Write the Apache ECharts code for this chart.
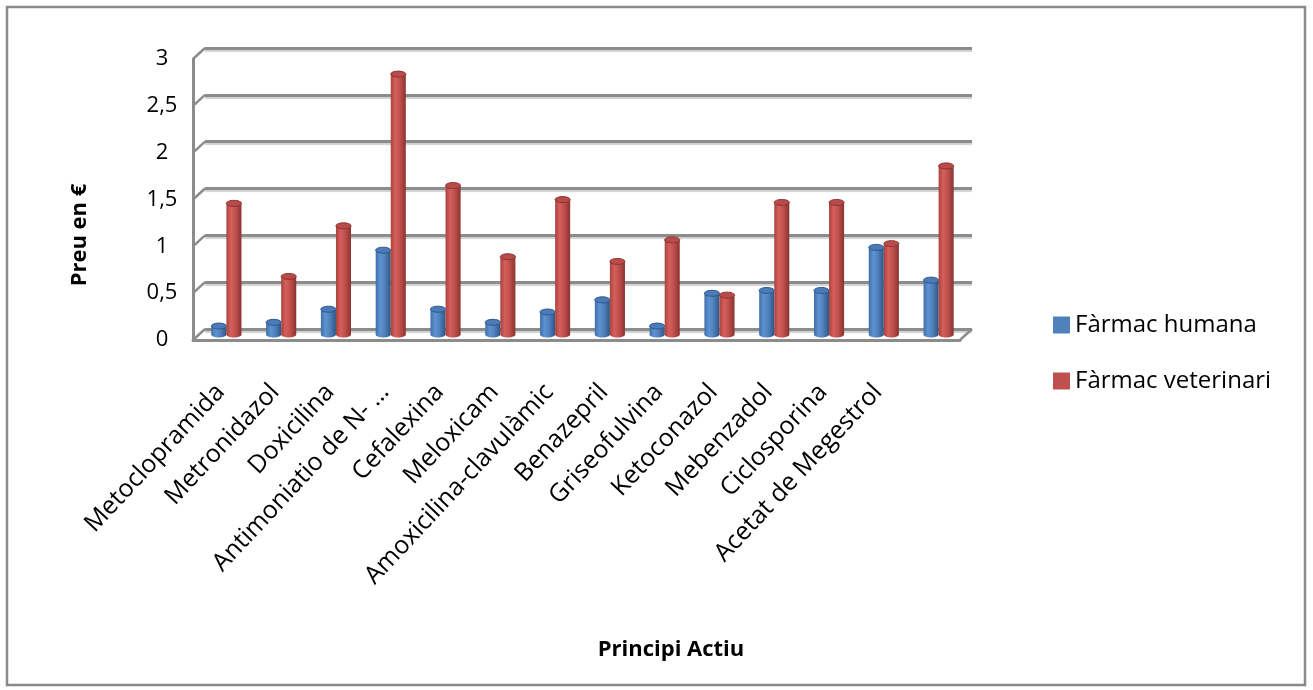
<!DOCTYPE html>
<html>
<head>
<meta charset="utf-8">
<title>Preu en € per principi actiu</title>
<script src="https://cdn.jsdelivr.net/npm/echarts/dist/echarts.min.js"></script>
<style>
  html, body { margin: 0; padding: 0; background: #fff; }
  #chart { width: 1313px; height: 690px; }
</style>
</head>
<body>
<div id="chart"></div>
<script>
// Categories (principis actius) and prices in € for each kind of medicine
const categories = [
  'Metoclopramida', 'Metronidazol', 'Doxicilina', 'Antimoniatio de N- …',
  'Cefalexina', 'Meloxicam', 'Amoxicilina-clavulàmic', 'Benazepril',
  'Griseofulvina', 'Ketoconazol', 'Mebenzadol', 'Ciclosporina',
  'Acetat de Megestrol', ''
];
const humana = [0.09, 0.13, 0.27, 0.90, 0.27, 0.13, 0.24, 0.37, 0.09, 0.44, 0.47, 0.47, 0.93, 0.58];
const veterinari = [1.40, 0.62, 1.16, 2.78, 1.59, 0.83, 1.44, 0.78, 1.01, 0.42, 1.41, 1.41, 0.97, 1.80];
const seriesNames = ['Fàrmac humana', 'Fàrmac veterinari'];
const yTicks = [0, 0.5, 1, 1.5, 2, 2.5, 3];

const FONT = '"Open Sans", "Noto Sans", sans-serif';
const GRID_W = 767, GRID_H = 281;
// back wall, front edge and the depth plane where the columns stand
const BACK = { left: 205, top: 48 };
const FRONT = { left: 193, top: 59 };
const MID = { left: 199, top: 53.5 };

const chart = echarts.init(document.getElementById('chart'), null, { renderer: 'canvas' });

function cylinder(side, c) {
  return function (params, api) {
    const idx = api.value(0);
    const v = api.value(1);
    const top = api.coord([idx, v]);
    const base = api.coord([idx, 0]);
    const band = api.size([1, 0])[0];
    const w = band * 0.275;
    const cx = top[0] + side * w / 2;
    const ry = 3;
    const grad = new echarts.graphic.LinearGradient(0, 0, 1, 0, [
      { offset: 0, color: c.edge },
      { offset: 0.3, color: c.light },
      { offset: 0.6, color: c.mid },
      { offset: 1, color: c.dark }
    ]);
    return {
      type: 'group',
      children: [
        { type: 'ellipse', shape: { cx: cx, cy: base[1], rx: w / 2, ry: ry }, style: { fill: grad } },
        { type: 'rect', shape: { x: cx - w / 2, y: top[1], width: w, height: base[1] - top[1] }, style: { fill: grad } },
        { type: 'ellipse', shape: { cx: cx, cy: top[1], rx: w / 2, ry: ry },
          style: { fill: c.top, stroke: c.dark, lineWidth: 1 } }
      ]
    };
  };
}

const BLUE = { edge: '#3f6ea9', light: '#5e92d2', mid: '#4f81bd', dark: '#2f5686', top: '#4a7bb8' };
const RED = { edge: '#a8433f', light: '#d55f5b', mid: '#c0504d', dark: '#8a3331', top: '#b94b48' };

const option = {
  animation: false,
  backgroundColor: '#fff',
  grid: [
    { left: BACK.left, top: BACK.top, width: GRID_W, height: GRID_H },
    { left: FRONT.left, top: FRONT.top, width: GRID_W, height: GRID_H },
    { left: MID.left, top: MID.top, width: GRID_W, height: GRID_H }
  ],
  xAxis: [
    { type: 'category', gridIndex: 0, data: categories, show: false },
    {
      type: 'category', gridIndex: 1, data: categories,
      axisLine: { show: true, lineStyle: { color: '#8c8c8c', width: 3 } },
      axisTick: { show: false },
      axisLabel: {
        interval: 0, rotate: 47, margin: 48,
        color: '#000', fontFamily: FONT, fontSize: 25
      }
    },
    { type: 'category', gridIndex: 2, data: categories, show: false }
  ],
  yAxis: [
    {
      type: 'value', gridIndex: 0, min: 0, max: 3, interval: 0.5,
      axisLine: { show: false }, axisTick: { show: false }, axisLabel: { show: false },
      splitLine: { lineStyle: { color: '#8c8c8c', width: 3, shadowColor: 'rgba(0,0,0,0.18)', shadowOffsetY: 2, shadowBlur: 1 } }
    },
    {
      type: 'value', gridIndex: 1, min: 0, max: 3, interval: 0.5,
      axisLine: { show: true, lineStyle: { color: '#8c8c8c', width: 3 } },
      axisTick: { show: false },
      splitLine: { show: false },
      axisLabel: {
        align: 'center', margin: 31, color: '#000', fontFamily: FONT, fontSize: 22,
        formatter: function (v) { return String(v).replace('.', ','); }
      }
    },
    { type: 'value', gridIndex: 2, min: 0, max: 3, interval: 0.5, show: false }
  ],
  legend: {
    orient: 'vertical', left: 1048, top: 308,
    icon: 'rect', itemWidth: 17, itemHeight: 17, itemGap: 32,
    textStyle: { color: '#000', fontFamily: FONT, fontSize: 24 },
    data: seriesNames
  },
  series: [
    {
      name: seriesNames[0], type: 'custom', xAxisIndex: 2, yAxisIndex: 2,
      itemStyle: { color: '#4f81bd' },
      renderItem: cylinder(-1, BLUE),
      encode: { x: 0, y: 1 },
      data: humana.map(function (v, i) { return [i, v]; })
    },
    {
      name: seriesNames[1], type: 'custom', xAxisIndex: 2, yAxisIndex: 2,
      itemStyle: { color: '#c0504d' },
      renderItem: cylinder(1, RED),
      encode: { x: 0, y: 1 },
      data: veterinari.map(function (v, i) { return [i, v]; })
    }
  ]
};
chart.setOption(option);

// Depth edges of the 3D frame: short diagonals joining the front edge to the back wall
const edges = [];
const stroke = { stroke: '#8c8c8c', lineWidth: 2.5 };
yTicks.forEach(function (v) {
  const fy = chart.convertToPixel({ yAxisIndex: 1 }, v);
  const by = chart.convertToPixel({ yAxisIndex: 0 }, v);
  edges.push({ type: 'line', shape: { x1: FRONT.left, y1: fy, x2: BACK.left, y2: by }, style: stroke, silent: true });
});
const f0 = chart.convertToPixel({ yAxisIndex: 1 }, 0);
const b0 = chart.convertToPixel({ yAxisIndex: 0 }, 0);
edges.push({ type: 'line', shape: { x1: FRONT.left + GRID_W, y1: f0, x2: BACK.left + GRID_W, y2: b0 }, style: stroke, silent: true });

chart.setOption({
  graphic: edges.concat([
    { type: 'rect', shape: { x: 7, y: 7, width: 1298, height: 678 }, style: { fill: 'none', stroke: '#8a8a8a', lineWidth: 2.5 }, silent: true },
    {
      type: 'text', x: 80, y: 235, rotation: Math.PI / 2,
      style: { text: 'Preu en €', fontFamily: FONT, fontSize: 22, fontWeight: 'bold', fill: '#000', align: 'center', verticalAlign: 'middle' }
    },
    {
      type: 'text', x: 671, y: 650,
      style: { text: 'Principi Actiu', fontFamily: FONT, fontSize: 22, fontWeight: 'bold', fill: '#000', align: 'center', verticalAlign: 'middle' }
    }
  ])
});
</script>
</body>
</html>
